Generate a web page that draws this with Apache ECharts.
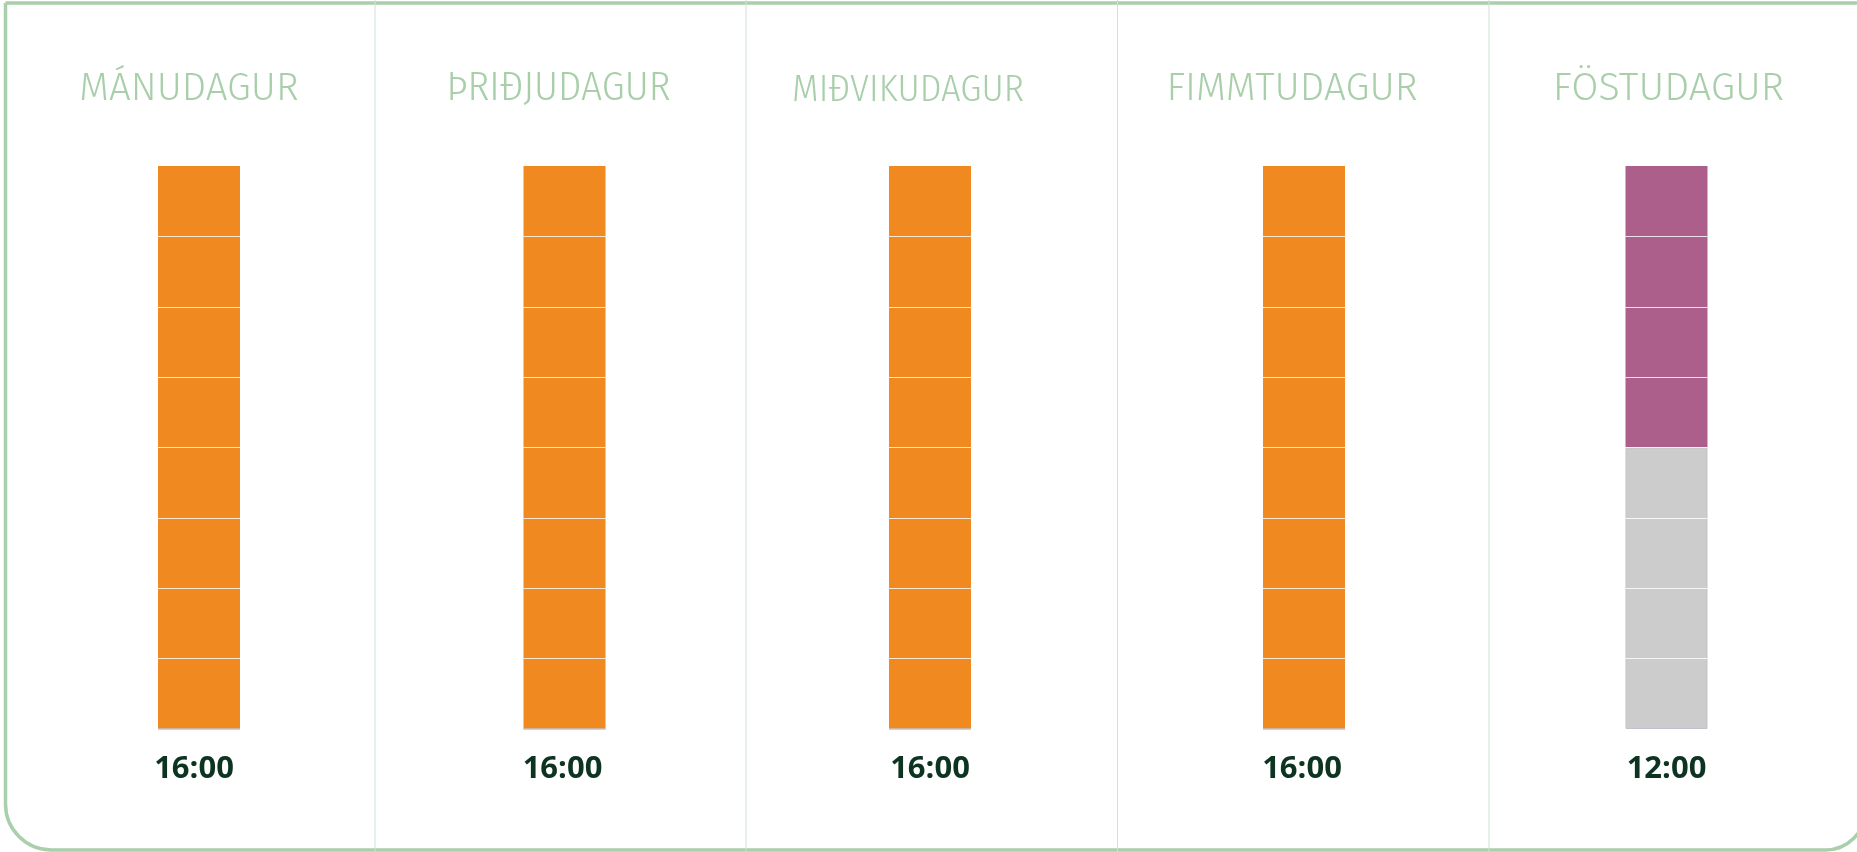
<!DOCTYPE html>
<html>
<head>
<meta charset="utf-8">
<script src="https://cdn.jsdelivr.net/npm/echarts@6/dist/echarts.min.js"></script>
<style>
  html, body { margin: 0; padding: 0; background: #ffffff; overflow: hidden; }
  #chart { width: 1857px; height: 852px; }
</style>
</head>
<body>
<div id="chart"></div>
<script>
// ---- data ----
const days = ['MÁNUDAGUR', 'ÞRIÐJUDAGUR', 'MIÐVIKUDAGUR', 'FIMMTUDAGUR', 'FÖSTUDAGUR'];
const closingTimes = ['16:00', '16:00', '16:00', '16:00', '12:00'];
const openHours = [8, 8, 8, 8, 4];
const closedHours = [0, 0, 0, 0, 4];
const dayLength = 8;

// ---- layout / style (not data) ----
const barLeft = [158, 523.5, 889, 1263, 1625.5];
const titleShift = [-10, -6, -22, -12, 2];
const timeShift = [-5, -2, 0, -2, 0];
const titleFont = ["'Fira Sans','Open Sans',sans-serif", "'Fira Sans Condensed','Fira Sans',sans-serif",
                   "'Fira Sans Condensed','Fira Sans',sans-serif", "'Fira Sans','Open Sans',sans-serif",
                   "'Fira Sans','Open Sans',sans-serif"];
const titleSize = [38.5, 41, 38, 38.8, 39.5];
const openColors = ['#f0891f', '#f0891f', '#f0891f', '#f0891f', '#ad5f8c'];
const closedColor = '#cccccc';
const dividerX = [375, 746, 1117.5, 1489];

function shiftPadding(s) {
  return s < 0 ? [0, -2 * s, 0, 0] : [0, 0, 0, 2 * s];
}

const grid = [], xAxis = [], yAxis = [], series = [];
days.forEach((d, i) => {
  grid.push({ left: barLeft[i], top: 166, width: 82, height: 563 });
  xAxis.push({
    gridIndex: i, type: 'category', position: 'top', data: [d],
    axisLine: { show: false }, axisTick: { show: false }, splitLine: { show: false },
    axisLabel: {
      margin: 57, fontSize: titleSize[i], fontWeight: 300, color: '#a8cfaa',
      fontFamily: titleFont[i],
      padding: shiftPadding(titleShift[i])
    }
  });
  xAxis.push({
    gridIndex: i, type: 'category', position: 'bottom', data: [closingTimes[i]],
    axisLine: { show: false }, axisTick: { show: false }, splitLine: { show: false },
    axisLabel: {
      margin: 25, fontSize: 31, fontWeight: 'bold', color: '#0d3321',
      fontFamily: "'Open Sans','Noto Sans',sans-serif",
      padding: shiftPadding(timeShift[i])
    }
  });
  yAxis.push({
    gridIndex: i, type: 'value', min: 0, max: dayLength, interval: 1, inverse: true, z: 10,
    axisLine: { show: false }, axisTick: { show: false }, axisLabel: { show: false },
    splitLine: {
      show: true, showMinLine: false, showMaxLine: false,
      lineStyle: { color: 'rgba(255,255,255,0.8)', width: 1 }
    }
  });
  series.push({
    type: 'bar', xAxisIndex: 2 * i, yAxisIndex: i, stack: 'day' + i,
    barWidth: '100%', silent: true, data: [openHours[i]],
    itemStyle: { color: openColors[i] }
  });
  series.push({
    type: 'bar', xAxisIndex: 2 * i, yAxisIndex: i, stack: 'day' + i,
    barWidth: '100%', silent: true, data: [closedHours[i]],
    itemStyle: { color: closedColor, borderColor: '#c2c2ca', borderWidth: 1 }
  });
});

const graphic = [{
  type: 'rect', silent: true, z: 0, x: 0, y: 0,
  shape: { x: 5.5, y: 3, width: 1860, height: 847, r: [0, 0, 40, 46] },
  style: { fill: 'none', stroke: '#a9d0aa', lineWidth: 3.5 }
}];
dividerX.forEach(x => graphic.push({
  type: 'line', silent: true, z: 0,
  shape: { x1: x, y1: 0, x2: x, y2: 852 },
  style: { stroke: '#cfe3cf', lineWidth: 1 }
}));

const chart = echarts.init(document.getElementById('chart'), null, { renderer: 'canvas' });
chart.setOption({
  animation: false,
  backgroundColor: '#ffffff',
  graphic, grid, xAxis, yAxis, series
});
</script>
</body>
</html>
